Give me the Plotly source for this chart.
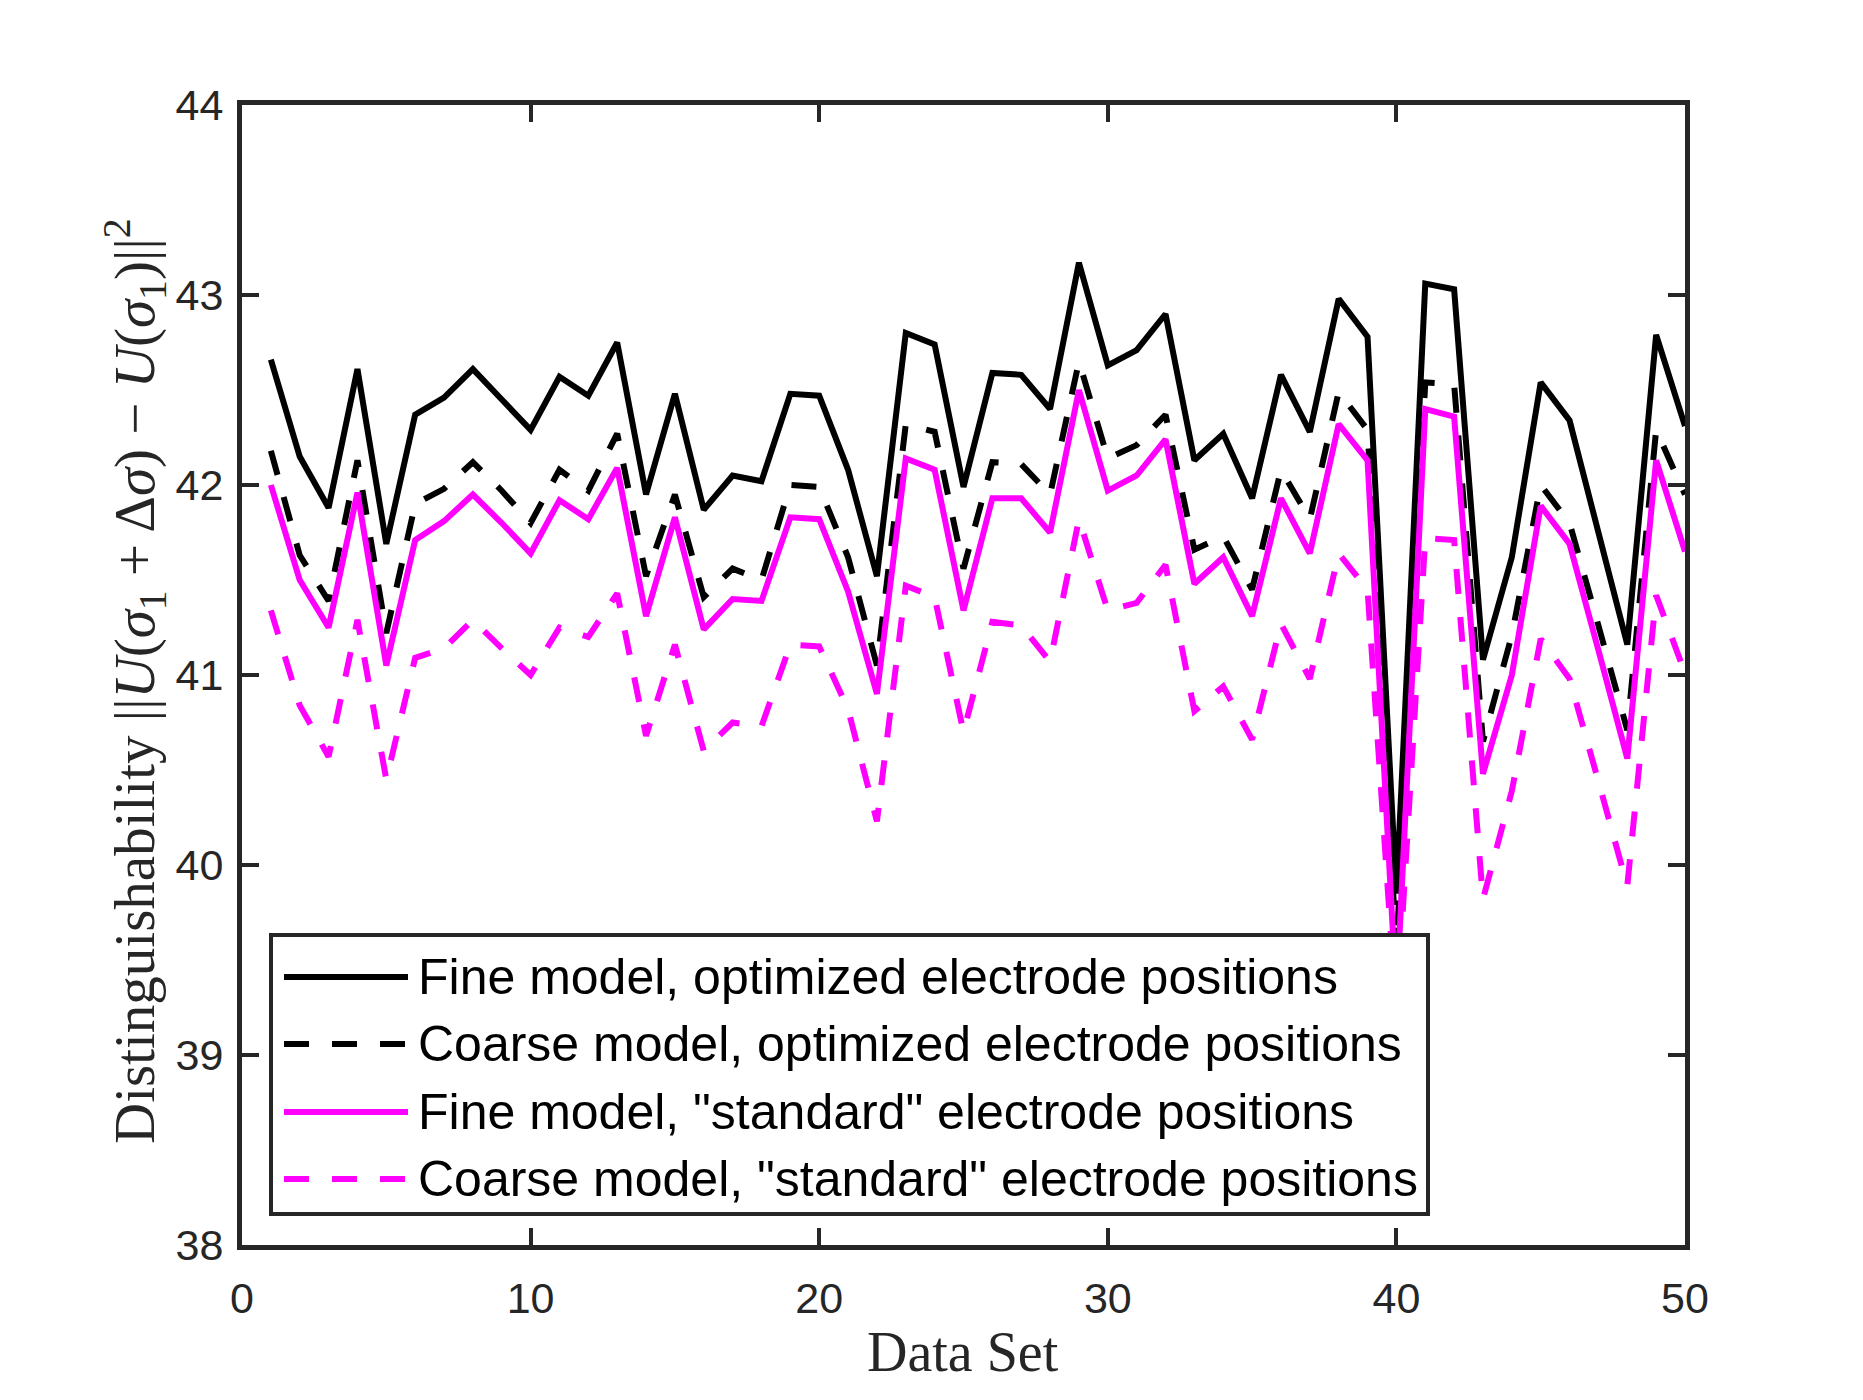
import plotly.graph_objects as go

# ---------------- data ----------------
data_set = list(range(1, 51))

fine_opt = [42.66, 42.15, 41.88, 42.61, 41.69, 42.37, 42.46, 42.61, 42.45, 42.29,
            42.57, 42.47, 42.75, 41.95, 42.48, 41.87, 42.05, 42.02, 42.48, 42.47,
            42.08, 41.52, 42.80, 42.74, 41.99, 42.59, 42.58, 42.40, 43.17, 42.63,
            42.71, 42.90, 42.13, 42.27, 41.93, 42.58, 42.28, 42.98, 42.78, 39.85,
            43.06, 43.03, 41.08, 41.62, 42.54, 42.34, 41.75, 41.16, 42.79, 42.31]

coarse_opt = [42.18, 41.63, 41.39, 42.13, 41.22, 41.90, 41.98, 42.12, 41.97, 41.80,
              42.08, 41.97, 42.27, 41.52, 41.95, 41.41, 41.56, 41.50, 42.00, 41.99,
              41.62, 41.05, 42.32, 42.28, 41.56, 42.12, 42.11, 41.95, 42.65, 42.14,
              42.21, 42.37, 41.66, 41.73, 41.45, 42.08, 41.82, 42.49, 42.29, 39.55,
              42.54, 42.53, 40.65, 41.21, 42.00, 41.80, 41.26, 40.71, 42.29, 41.95]

fine_std = [42.00, 41.50, 41.25, 41.96, 41.05, 41.71, 41.81, 41.95, 41.80, 41.64,
            41.92, 41.82, 42.09, 41.31, 41.83, 41.24, 41.40, 41.39, 41.83, 41.82,
            41.44, 40.90, 42.14, 42.08, 41.34, 41.93, 41.93, 41.75, 42.50, 41.97,
            42.05, 42.24, 41.48, 41.62, 41.31, 41.93, 41.64, 42.32, 42.13, 39.30,
            42.40, 42.36, 40.48, 41.00, 41.89, 41.69, 41.13, 40.56, 42.13, 41.65]

coarse_std = [41.34, 40.84, 40.57, 41.29, 40.45, 41.09, 41.14, 41.29, 41.14, 41.00,
              41.25, 41.20, 41.43, 40.68, 41.16, 40.60, 40.75, 40.73, 41.16, 41.15,
              40.82, 40.23, 41.47, 41.41, 40.70, 41.28, 41.26, 41.07, 41.82, 41.34,
              41.38, 41.58, 40.81, 40.94, 40.66, 41.27, 40.98, 41.64, 41.45, 39.20,
              41.72, 41.71, 39.82, 40.39, 41.19, 40.98, 40.44, 39.89, 41.42, 41.01]

series_names = ["Fine model, optimized electrode positions",
                "Coarse model, optimized electrode positions",
                "Fine model, \"standard\" electrode positions",
                "Coarse model, \"standard\" electrode positions"]
series_values = [fine_opt, coarse_opt, fine_std, coarse_std]

x_ticks = [0, 10, 20, 30, 40, 50]
y_ticks = [38, 39, 40, 41, 42, 43, 44]

# ---------------- styling ----------------
OFF = 8                      # page body margin
W, H = 1863 - OFF, 1400 - OFF
# plot area edges in page pixels, converted to figure pixels
L, R, T, B = 242 - OFF, 1685 - OFF, 105 - OFF, 1245 - OFF
AX = "#262626"
DASH = "25px,23px"
LW = 6
styles = [dict(color="#000000", dash="solid"),
          dict(color="#000000", dash=DASH),
          dict(color="#FF00FF", dash="solid"),
          dict(color="#FF00FF", dash=DASH)]


def px(xp):
    return (xp - OFF - L) / (R - L)


def py(yp):
    return (B - (yp - OFF)) / (B - T)


fig = go.Figure()
for name, vals, st in zip(series_names, series_values, styles):
    fig.add_trace(go.Scatter(x=data_set, y=vals, mode="lines", name=name,
                             showlegend=False,
                             line=dict(color=st["color"], dash=st["dash"], width=LW)))

axis_common = dict(showline=True, mirror="ticks", linecolor=AX, linewidth=5,
                   ticks="inside", ticklen=17, tickwidth=4, tickcolor=AX,
                   showgrid=False, zeroline=False,
                   tickfont=dict(family="Liberation Sans, Arial", size=43, color=AX))

fig.update_xaxes(range=[0, 50], tickvals=x_ticks, ticklabelstandoff=11, **axis_common)
fig.update_yaxes(range=[38, 44], tickvals=y_ticks, ticklabelstandoff=5, **axis_common)

shapes = []
annotations = []

# custom legend box
shapes.append(dict(type="rect", xref="paper", yref="paper",
                   x0=px(271), x1=px(1428), y0=py(935), y1=py(1214),
                   fillcolor="white", line=dict(color=AX, width=4), layer="above"))
row_y = [977, 1044, 1112, 1179]
for name, st, ry in zip(series_names, styles, row_y):
    shapes.append(dict(type="line", xref="paper", yref="paper",
                       x0=px(284), x1=px(408), y0=py(ry), y1=py(ry),
                       line=dict(color=st["color"], dash=st["dash"], width=LW),
                       layer="above"))
    annotations.append(dict(xref="paper", yref="paper", x=px(416), y=py(ry),
                            xanchor="left", yanchor="middle", showarrow=False,
                            text=name,
                            font=dict(family="Liberation Sans, Arial", size=50,
                                      color="#000000")))

# axis titles
annotations.append(dict(xref="paper", yref="paper", x=px(963), y=py(1352),
                        xanchor="center", yanchor="middle", showarrow=False,
                        text="Data Set",
                        font=dict(family="Liberation Serif, Times New Roman", size=56,
                                  color=AX)))
annotations.append(dict(xref="paper", yref="paper", x=px(134), y=py(681),
                        xanchor="center", yanchor="middle", showarrow=False,
                        textangle=-90,
                        text=("Distinguishability ||<i>U</i>(<i>σ</i><sub>1</sub> + Δ<i>σ</i>)"
                              " − <i>U</i>(<i>σ</i><sub>1</sub>)||<sup>2</sup>"),
                        font=dict(family="Liberation Serif, Times New Roman", size=57,
                                  color=AX)))

fig.update_layout(width=W, height=H, autosize=False,
                  margin=dict(l=L, r=W - R, t=T, b=H - B),
                  paper_bgcolor="white", plot_bgcolor="white",
                  shapes=shapes, annotations=annotations, showlegend=False)

fig.write_html("out.html")
